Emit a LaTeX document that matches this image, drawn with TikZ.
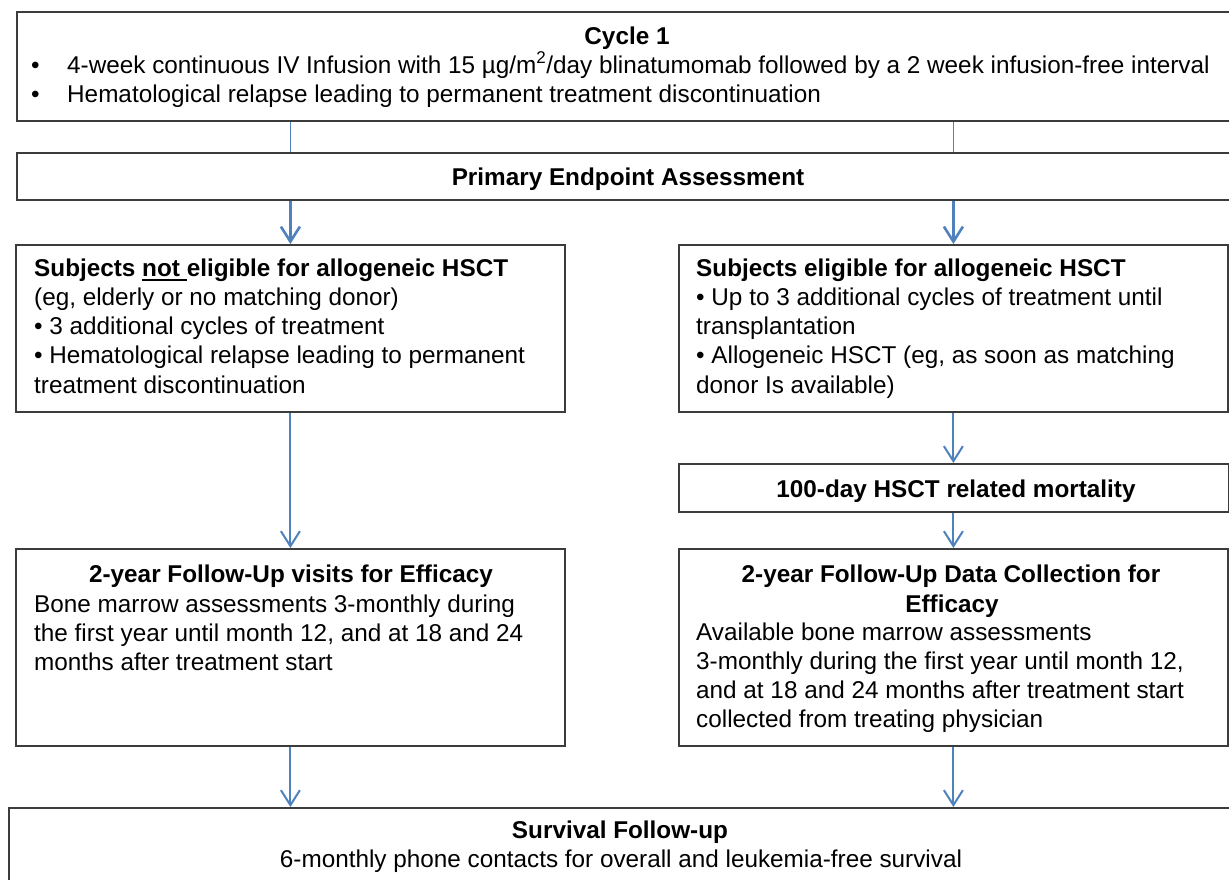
\documentclass[tikz,border=0pt]{standalone}
\usepackage{fontspec}
\setmainfont{Liberation Sans}
\usetikzlibrary{arrows.meta}
\definecolor{arrowblue}{RGB}{79,129,189}
\definecolor{boxgray}{RGB}{60,60,60}
\newcommand\myul[1]{\setbox0=\hbox{#1}\rlap{\rule[-5pt]{\wd0}{2pt}}\box0}
\newcommand\blines[1]{\vtop{\baselineskip=29.3pt #1}}
\tikzset{
  box/.style={draw=boxgray, line width=1.8pt, rectangle, inner sep=0pt, anchor=north west},
  txt/.style={inner sep=0pt, font=\fontsize{24.3}{29.3}\selectfont},
  arr/.style={draw=arrowblue, line width=2pt, -{Straight Barb[length=15pt,width=19pt]}},
  arrthick/.style={arr, line width=2.6pt},
  link/.style={draw=arrowblue, line width=1.5pt}
}
\begin{document}
\begin{tikzpicture}[x=1pt,y=-1pt]
\useasboundingbox (0,0) rectangle (1229,879);
\clip (0,0) rectangle (1229,879);
% boxes
\node[box, minimum width=1224pt, minimum height=109pt] (cyc) at (16,11) {};
\node[box, minimum width=1224pt, minimum height=47pt] (pea) at (16,152) {};
\node[box, minimum width=549pt, minimum height=167pt] (lb) at (15,244) {};
\node[box, minimum width=549pt, minimum height=167pt] (rb) at (678,244) {};
\node[box, minimum width=550pt, minimum height=48pt] (hm) at (678,463) {};
\node[box, minimum width=549pt, minimum height=197pt] (lf) at (15,548) {};
\node[box, minimum width=549pt, minimum height=197pt] (rf) at (678,548) {};
\node[box, minimum width=1224pt, minimum height=90pt] (sv) at (8,807) {};
% texts
\node[txt, anchor=base] (cyct) at (627,44) {\textbf{Cycle 1}};
\node[txt, anchor=base west] (cycb1) at (31,73) {•};
\node[txt, anchor=base west] (cycl1) at (67,73) {4-week continuous IV Infusion with 15 µg/m\textsuperscript{2}/day blinatumomab followed by a 2 week infusion-free interval};
\node[txt, anchor=base west] (cycb2) at (31,102) {•};
\node[txt, anchor=base west] (cycl2) at (67,102) {Hematological relapse leading to permanent treatment discontinuation};
\node[txt, anchor=base] (peat) at (628,185) {\textbf{Primary Endpoint Assessment}};
\node[txt, anchor=base west] (lbt) at (34,276) {\blines{%
  \hbox{\textbf{Subjects \myul{not }eligible for allogeneic HSCT}}
  \hbox{(eg, elderly or no matching donor)}
  \hbox{• 3 additional cycles of treatment}
  \hbox{• Hematological relapse leading to permanent}
  \hbox{treatment discontinuation}}};
\node[txt, anchor=base west] (rbt) at (696,276) {\blines{%
  \hbox{\textbf{Subjects eligible for allogeneic HSCT}}
  \hbox{• Up to 3 additional cycles of treatment until}
  \hbox{transplantation}
  \hbox{• Allogeneic HSCT (eg, as soon as matching}
  \hbox{donor Is available)}}};
\node[txt, anchor=base] (hmt) at (956,497) {\textbf{100-day HSCT related mortality}};
\node[txt, anchor=base] (lft) at (291,582) {\textbf{2-year Follow-Up visits for Efficacy}};
\node[txt, anchor=base west] (lfb) at (34,612) {\blines{%
  \hbox{Bone marrow assessments 3-monthly during}
  \hbox{the first year until month 12, and at 18 and 24}
  \hbox{months after treatment start}}};
\node[txt, anchor=base] (rft1) at (951,582) {\textbf{2-year Follow-Up Data Collection for}};
\node[txt, anchor=base] (rft2) at (952,612) {\textbf{Efficacy}};
\node[txt, anchor=base west] (rfb) at (696,640) {\blines{%
  \hbox{Available bone marrow assessments}
  \hbox{3-monthly during the first year until month 12,}
  \hbox{and at 18 and 24 months after treatment start}
  \hbox{collected from treating physician}}};
\node[txt, anchor=base] (svt) at (620,838) {\textbf{Survival Follow-up}};
\node[txt, anchor=base] (svb) at (621,867) {6-monthly phone contacts for overall and leukemia-free survival};
% connectors
\draw[link] (cyc.south -| lb.north) -- (pea.north -| lb.north);
\draw[link] (cyc.south -| rb.north) -- (pea.north -| rb.north);
\draw[arrthick] (pea.south -| lb.north) -- (lb.north);
\draw[arrthick] (pea.south -| rb.north) -- (rb.north);
\draw[arr] (lb.south) -- (lf.north);
\draw[arr] (rb.south) -- (hm.north -| rb.south);
\draw[arr] (hm.south -| rf.north) -- (rf.north);
\draw[arr] (lf.south) -- (sv.north -| lf.south);
\draw[arr] (rf.south) -- (sv.north -| rf.south);
\end{tikzpicture}
\end{document}
